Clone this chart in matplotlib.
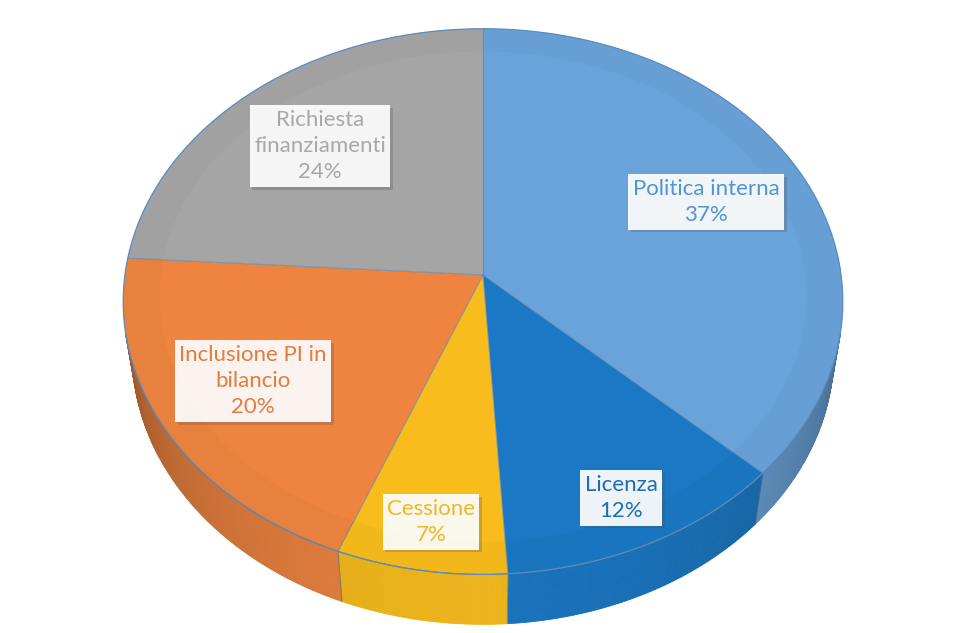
import numpy as np
import matplotlib.pyplot as plt
from matplotlib.patches import Polygon
from matplotlib.colors import to_rgb
import matplotlib.patheffects as pe

# slices, clockwise from 12 o'clock
labels = ['Politica interna', 'Licenza', 'Cessione', 'Inclusione PI in\nbilancio', 'Richiesta\nfinanziamenti']
values = [37, 12, 7, 20, 24]
colors = ['#6aa3d9', '#1b78c4', '#f8bd1c', '#ee8440', '#a5a5a5']
text_colors = ['#4f94d4', '#1c6db3', '#eeb726', '#e47c3c', '#a8a8a8']
label_pos = [(706, 202), (621, 498), (431, 522), (253, 381), (320, 146)]

# perspective camera (pixel space)
ELEV = np.radians(49)
DIST = 6.73
SCALE = 2410
CX, CY = 483, 275
THICK = 0.23


def project(x, y, z):
    ce, se = np.cos(ELEV), np.sin(ELEV)
    vy = y + DIST * ce
    vz = z - DIST * se
    depth = vy * ce - vz * se
    up = vy * se + vz * ce
    return CX + SCALE * x / depth, CY - SCALE * up / depth


def rim(theta, r=1.0, z=0.0):
    return project(r * np.sin(theta), r * np.cos(theta), z * np.ones_like(theta))


def shade(c, f):
    return tuple(min(1, v * f) for v in to_rgb(c))


fig = plt.figure(figsize=(9.58, 6.33), dpi=100)
ax = fig.add_axes([0, 0, 1, 1])
ax.set_xlim(0, 958)
ax.set_ylim(633, 0)
ax.axis('off')

total = sum(values)
bounds = np.concatenate([[0], np.cumsum(values)]) / total * 2 * np.pi
vis_cos = -1 / (DIST * np.cos(ELEV))

# outer wall, drawn in thin strips so the shading can vary
for i, col in enumerate(colors):
    th = np.linspace(bounds[i], bounds[i + 1], max(4, int(values[i] * 8)))
    for a, b in zip(th[:-1], th[1:]):
        m = (a + b) / 2
        if np.cos(m) > vis_cos + 0.02:
            continue
        xa, ya = rim(np.array([a, b]))
        xb, yb = rim(np.array([b, a]), z=-THICK)
        f = 0.6 + 0.35 * (-np.cos(m))
        c = shade(col, f)
        ax.add_patch(Polygon(np.column_stack([np.r_[xa, xb], np.r_[ya, yb]]),
                             closed=True, fc=c, ec=c, lw=0.6))

# wall edges at slice boundaries and along the bottom
for bnd in bounds[:-1]:
    if np.cos(bnd) < vis_cos:
        x0, y0 = rim(np.array([bnd]))
        x1, y1 = rim(np.array([bnd]), z=-THICK)
        ax.plot([x0[0], x1[0]], [y0[0], y1[0]], color='#4d6f94', lw=0.7, alpha=0.6)

th_front = np.linspace(np.arccos(vis_cos), 2 * np.pi - np.arccos(vis_cos), 200)
xf, yf = rim(th_front)
ax.plot(xf, yf, color='#4d6f94', lw=0.8, alpha=0.7)

# top faces with a faint bevel ring
for i, col in enumerate(colors):
    th = np.linspace(bounds[i], bounds[i + 1], max(4, int(values[i] * 6)))
    xo, yo = rim(th)
    x0, y0 = project(0, 0, 0)
    ax.add_patch(Polygon(np.column_stack([np.r_[x0, xo], np.r_[y0, yo]]),
                         closed=True, fc=col, ec='none'))
    xi, yi = rim(th[::-1], r=0.9)
    ax.add_patch(Polygon(np.column_stack([np.r_[xo, xi], np.r_[yo, yi]]),
                         closed=True, fc=shade(col, 0.975), ec='none'))

for bnd in bounds[:-1]:
    x1, y1 = rim(np.array([bnd]))
    x0, y0 = project(0, 0, 0)
    ax.plot([x0, x1[0]], [y0, y1[0]], color='#5f86b0', lw=0.8, alpha=0.7)

th_all = np.linspace(0, 2 * np.pi, 400)
xr, yr = rim(th_all)
ax.plot(xr, yr, color='#5a8cc0', lw=0.9)

# labels
for lab, v, tc, (lx, ly) in zip(labels, values, text_colors, label_pos):
    t = ax.text(lx, ly, f'{lab}\n{v}%', ha='center', va='center', color=tc,
                fontsize=16, family='Lato', linespacing=1.4,
                bbox=dict(boxstyle='square,pad=0.2', fc='white', ec='none', alpha=0.92))
    t.get_bbox_patch().set_path_effects([pe.SimplePatchShadow(offset=(2, -2), alpha=0.25),
                                         pe.Normal()])

fig.savefig('out.png', dpi=100)
